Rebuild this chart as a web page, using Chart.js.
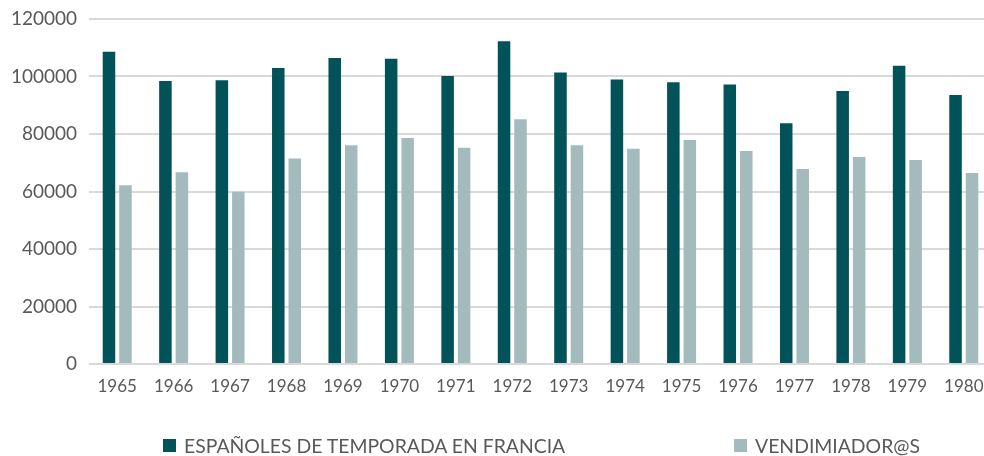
<!DOCTYPE html>
<html>
<head>
<meta charset="utf-8">
<script src="https://cdn.jsdelivr.net/npm/chart.js@4"></script>
<style>
  html, body { margin: 0; padding: 0; background: #fff; }
  #wrap { position: relative; width: 984px; height: 456px; overflow: hidden; }
  #box { position: absolute; left: 0; top: 0; width: 992px; height: 456px; }
  .lg { position: absolute; top: 436px; font-family: Lato, sans-serif; font-size: 19.4px; color: #595959; white-space: nowrap; line-height: 20px; }
  .sw { position: absolute; width: 13px; height: 13px; top: 439px; }
</style>
</head>
<body>
<div id="wrap">
  <div id="box"><canvas id="c" width="992" height="456"></canvas></div>
  <div class="sw" id="sw1"></div><div class="lg" id="lg1"></div>
  <div class="sw" id="sw2"></div><div class="lg" id="lg2"></div>
</div>
<script>
const categories = ['1965','1966','1967','1968','1969','1970','1971','1972','1973','1974','1975','1976','1977','1978','1979','1980'];
const seriesNames = ['ESPAÑOLES DE TEMPORADA EN FRANCIA', 'VENDIMIADOR@S'];
const espanoles = [108600, 98400, 98700, 103000, 106400, 106200, 100200, 112300, 101400, 99000, 98000, 97200, 83700, 95000, 103700, 93600];
const vendimiadores = [62200, 66700, 59900, 71500, 76100, 78600, 75200, 85100, 76100, 74900, 77900, 74100, 67800, 72000, 71000, 66400];
const yTicks = [0, 20000, 40000, 60000, 80000, 100000, 120000];
const colors = ['#02525A', '#A3BBBC'];

document.getElementById('sw1').style.cssText = 'left:163px;background:' + colors[0];
document.getElementById('sw2').style.cssText = 'left:734px;background:' + colors[1];
const l1 = document.getElementById('lg1'); l1.textContent = seriesNames[0]; l1.style.left = '184px';
const l2 = document.getElementById('lg2'); l2.textContent = seriesNames[1]; l2.style.left = '755px';

new Chart(document.getElementById('c'), {
  type: 'bar',
  data: {
    labels: categories,
    datasets: [
      { label: seriesNames[0], data: espanoles, backgroundColor: colors[0], categoryPercentage: 0.584, barPercentage: 0.76 },
      { label: seriesNames[1], data: vendimiadores, backgroundColor: colors[1], categoryPercentage: 0.584, barPercentage: 0.76 }
    ]
  },
  options: {
    responsive: false,
    animation: false,
    layout: { padding: { top: 19, bottom: 0, left: 0, right: 0 } },
    plugins: { legend: { display: false }, tooltip: { enabled: false } },
    scales: {
      x: {
        grid: { display: false },
        border: { display: false },
        ticks: { color: '#595959', font: { family: 'Lato', size: 17 }, padding: 4, maxRotation: 0 },
        afterFit: s => { s.height = 92; s.paddingLeft = 0; s.paddingRight = 0; }
      },
      y: {
        min: 0, max: 120000,
        afterBuildTicks: s => { s.ticks = yTicks.map(v => ({ value: v })); },
        grid: { color: '#D9D9D9', lineWidth: 2, drawTicks: false },
        border: { display: false },
        ticks: { color: '#595959', font: { family: 'Lato', size: 19 }, padding: 12, callback: v => String(v) },
        afterFit: s => { s.width = 89; s.paddingTop = 0; s.paddingBottom = 0; }
      }
    }
  }
});
</script>
</body>
</html>
